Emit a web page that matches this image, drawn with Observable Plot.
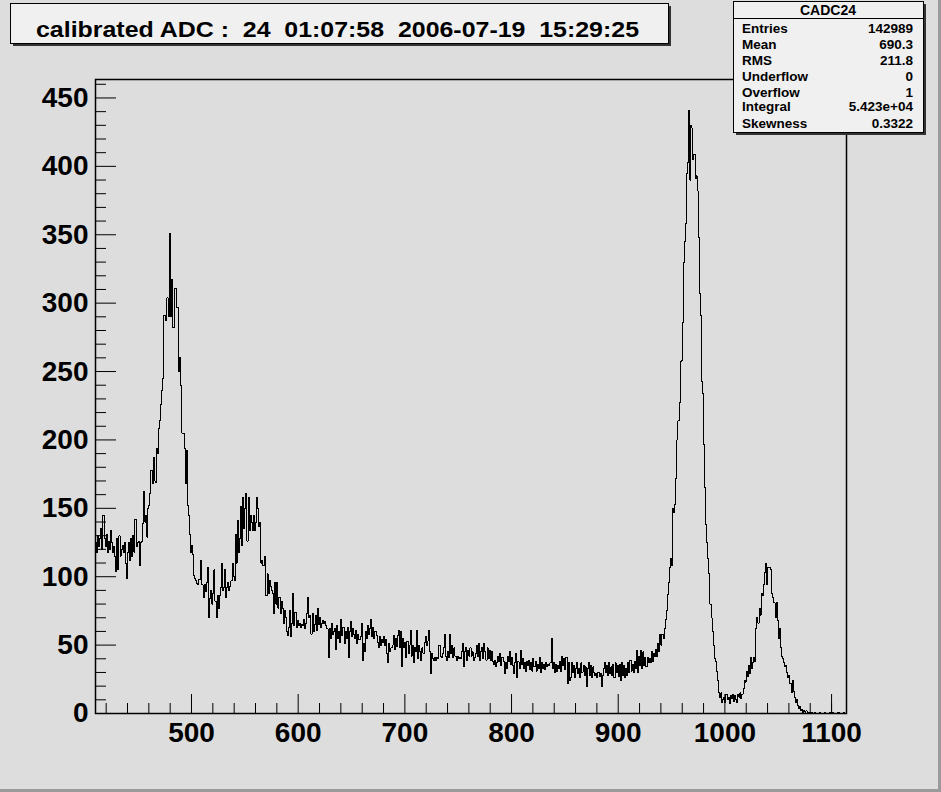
<!DOCTYPE html>
<html><head><meta charset="utf-8">
<script src="https://cdn.jsdelivr.net/npm/d3@7"></script>
<script src="https://cdn.jsdelivr.net/npm/@observablehq/plot@0.6"></script>
<style>
html,body{margin:0;padding:0;background:#dddddd;}
#chart{position:relative;width:941px;height:792px;overflow:hidden;}
svg text{white-space:pre;}
</style></head><body><div id="chart"></div>
<script>
const binStart = 410;
const binWidth = 1;
const xMax = 1114;
const yMax = 463.5;
// bin contents, one per ADC channel from 410 to 1113
const counts = [
125,118,130,122,128,135,120,145,128,122,
131,118,126,120,134,125,118,122,115,104,
128,105,130,115,120,123,118,125,110,99,
118,125,112,128,115,130,118,142,122,125,
126,108,125,126,139,162,140,145,129,150,
152,161,178,168,187,170,169,194,190,208,
214,226,236,245,291,291,287,304,290,351,
290,317,282,282,311,311,297,297,250,260,
240,205,205,194,168,192,152,145,131,118,
123,116,101,99,97,95,94,98,112,94,
94,85,94,89,96,107,70,84,90,80,
88,105,82,70,86,77,86,92,110,90,
92,105,85,92,96,90,93,97,110,100,
97,131,110,141,118,128,151,123,158,135,
150,161,126,158,134,145,140,134,145,134,
140,158,150,137,140,110,112,108,115,86,
86,102,88,97,93,90,88,73,96,80,
96,77,85,73,82,77,66,75,70,60,
57,63,75,56,66,88,64,74,63,68,
64,66,63,65,64,69,62,66,73,85,
70,72,58,73,60,65,72,61,77,65,
70,63,66,68,66,67,64,62,41,62,
55,66,58,60,62,47,64,55,60,52,
69,57,63,51,60,55,63,41,60,67,
56,62,58,55,61,51,58,54,56,66,
39,51,45,60,55,64,58,62,69,56,
63,55,60,57,52,48,56,50,54,52,
56,50,54,44,37,51,45,48,50,57,
47,55,49,57,61,48,60,34,55,48,
52,41,53,44,50,61,42,50,37,48,
45,61,40,50,45,39,48,44,52,56,
50,53,61,45,29,44,40,39,41,39,
41,40,50,42,41,44,48,58,42,39,
45,41,58,44,50,41,48,42,39,42,
40,41,40,45,51,34,45,48,39,46,
42,48,42,45,39,41,44,50,42,51,
39,45,48,40,51,45,39,48,40,46,
39,45,38,36,39,34,37,42,38,44,
35,41,38,29,37,33,42,38,45,36,
41,35,29,37,44,26,38,33,46,36,
40,33,37,31,38,35,39,32,37,31,
40,34,38,31,36,33,41,30,37,33,
36,32,37,34,36,35,37,55,33,37,
30,36,31,35,33,38,31,42,35,40,
32,41,22,37,24,26,37,30,35,26,
33,37,29,33,26,37,30,35,28,34,
20,33,37,28,35,26,34,30,28,29,
26,30,27,29,20,28,33,37,30,35,
28,37,29,34,28,36,26,37,30,35,
27,36,24,37,28,35,26,33,28,37,
30,39,31,36,30,38,33,46,30,42,
35,46,33,45,35,41,34,41,37,40,
37,45,38,44,42,47,42,51,45,58,
50,58,55,62,69,75,87,96,107,113,
108,150,147,153,172,200,214,227,257,258,
286,330,345,358,395,403,441,390,430,428,
405,409,391,393,382,348,307,291,243,234,
197,165,138,125,113,102,80,70,60,50,
40,38,31,24,15,12,15,8,10,12,
8,14,10,12,7,13,11,14,9,13,
10,8,14,12,15,11,14,18,24,23,
31,27,35,29,41,33,37,41,38,62,
70,66,77,72,88,86,94,103,110,94,
107,107,107,105,88,85,81,70,81,68,
55,62,48,42,40,37,34,35,30,26,
28,22,15,24,16,12,8,10,6,4,
5,2,3,1,2,1,2,0,1,1,
0,1,0,0,1,0,0,0,0,1,
0,0,0,1,0,0,0,0,1,0,
0,1,0,0,0,0,1,0,0,0,
0,1,0,0
];
const xMajorTicks = [500,600,700,800,900,1000,1100];
const xMinorTicks = [420,440,460,480,520,540,560,580,620,640,660,680,720,740,760,780,820,840,860,880,920,940,960,980,1020,1040,1060,1080,1100];
const yMajorTicks = [0,50,100,150,200,250,300,350,400,450];
const yMinorTicks = [10,20,30,40,60,70,80,90,110,120,130,140,160,170,180,190,210,220,230,240,260,270,280,290,310,320,330,340,360,370,380,390,410,420,430,440,460];
const titleText = "calibrated ADC :  24  01:07:58  2006-07-19  15:29:25";
const statsName = "CADC24";
const statsLabels = ["Entries","Mean","RMS","Underflow","Overflow","Integral","Skewness"];
const statsValues = ["142989","690.3","211.8","0","1","5.423e+04","0.3322"];

const pts = counts.map((c, i) => ({x: binStart + i * binWidth, y: c}));
pts.push({x: xMax, y: counts[counts.length - 1]});

const font = "'Liberation Sans', Arial, Helvetica, sans-serif";
const plot = Plot.plot({
  width: 941, height: 792,
  marginLeft: 95, marginRight: 95, marginTop: 79, marginBottom: 79,
  style: {background: "#dddddd", fontFamily: font, overflow: "visible", color: "black"},
  x: {domain: [binStart, xMax]},
  y: {domain: [0, yMax]},
  marks: [
    Plot.line(pts, {x: "x", y: "y", curve: "step-after", stroke: "black", strokeWidth: 1, shapeRendering: "crispEdges"}),
    Plot.axisX({ticks: xMinorTicks, tickSize: -10, tickFormat: () => "", label: null, stroke: "black"}),
    Plot.axisX({ticks: xMajorTicks, tickSize: -19, tickPadding: 28, fontSize: 28, fontWeight: "bold", tickFormat: d => String(d), label: null, stroke: "black"}),
    Plot.axisY({ticks: yMinorTicks, tickSize: -11, tickFormat: () => "", label: null, stroke: "black"}),
    Plot.axisY({ticks: yMajorTicks, tickSize: -21, tickPadding: 28, fontSize: 28, fontWeight: "bold", tickFormat: d => String(d), label: null, stroke: "black"}),
    Plot.frame({stroke: "black", strokeWidth: 1.5})
  ]
});
document.getElementById("chart").appendChild(plot);

const svg = d3.select(plot);
const g = svg.append("g").attr("font-family", font).attr("font-weight", "bold").attr("fill", "black").attr("text-anchor", "start");
// canvas bevel
g.append("rect").attr("x", 938).attr("y", 0).attr("width", 3).attr("height", 792).attr("fill", "#9a9a9a");
g.append("rect").attr("x", 0).attr("y", 789).attr("width", 941).attr("height", 3).attr("fill", "#9a9a9a");
// title box
g.append("rect").attr("x", 13).attr("y", 6).attr("width", 658).attr("height", 40).attr("fill", "#333");
g.append("rect").attr("x", 10.5).attr("y", 3.5).attr("width", 658).attr("height", 40).attr("fill", "#f0f0f0").attr("stroke", "black");
g.append("text").attr("x", 337.5).attr("y", 36.5).attr("text-anchor", "middle").attr("font-size", 22)
  .attr("textLength", 603).attr("lengthAdjust", "spacingAndGlyphs").style("white-space", "pre").text(titleText);
// stats box
g.append("rect").attr("x", 736).attr("y", 4).attr("width", 190).attr("height", 131).attr("fill", "#333");
g.append("rect").attr("x", 733.5).attr("y", 1.5).attr("width", 190).attr("height", 131).attr("fill", "#f0f0f0").attr("stroke", "black");
g.append("line").attr("x1", 733.5).attr("x2", 923.5).attr("y1", 18.5).attr("y2", 18.5).attr("stroke", "black");
g.append("text").attr("x", 828).attr("y", 15).attr("text-anchor", "middle").attr("font-size", 14).text(statsName);
const rowY = [33, 49, 65, 81, 97, 111, 128];
statsLabels.forEach((l, i) => {
  g.append("text").attr("x", 742).attr("y", rowY[i]).attr("text-anchor", "start").attr("font-size", 13.5).text(l);
  g.append("text").attr("x", 913).attr("y", rowY[i]).attr("text-anchor", "end").attr("font-size", 13.5).text(statsValues[i]);
});
</script></body></html>
